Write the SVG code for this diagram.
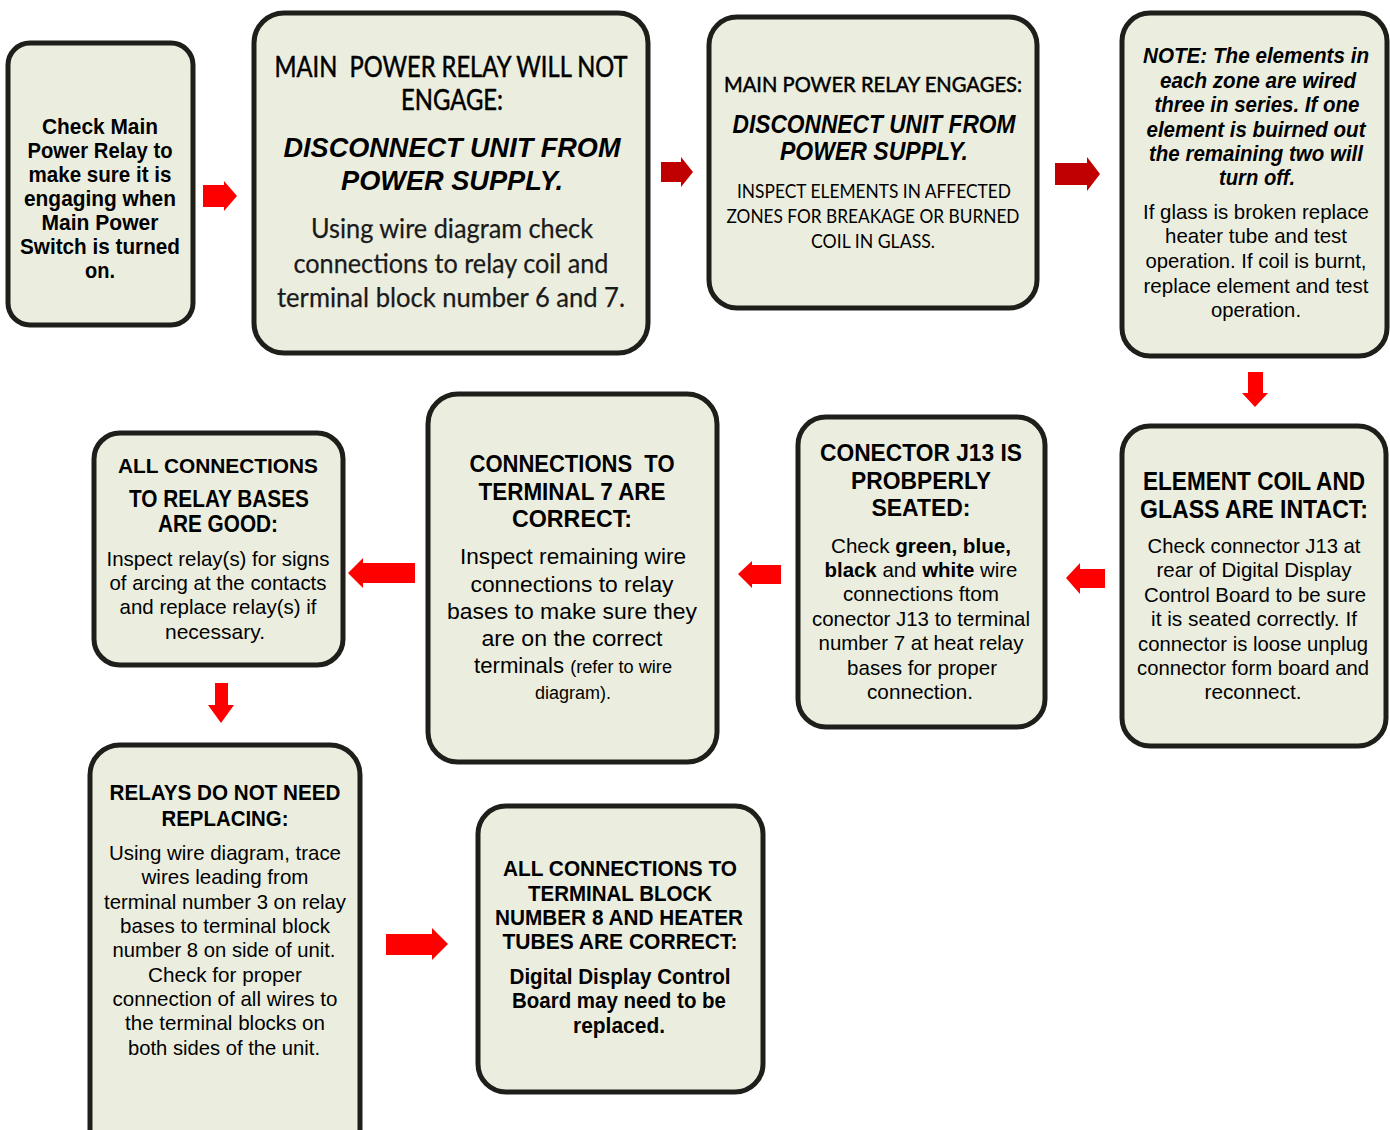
<svg xmlns="http://www.w3.org/2000/svg" width="1390" height="1130" viewBox="0 0 1390 1130">
<style>
.box{fill:#EBEEDF;stroke:#1E1E1A;stroke-width:5}
.ar{fill:#FF0000}
.ard{fill:#C00000}
text{font-family:"Liberation Sans",Arial,sans-serif;text-anchor:middle;fill:#000}
.b{font-weight:bold}
.bi{font-weight:bold;font-style:italic}
.r{fill:#111}
.cal{font-family:Lato,"Open Sans",sans-serif}
.hd{stroke:#000;stroke-width:0.5}
.g{fill:#1a1a1a;stroke:#1a1a1a;stroke-width:0.25}
.pre{white-space:pre}
</style>
<rect width="1390" height="1130" fill="#FFFFFF"/>
<g id="connectors">
<polygon class="ar" points="203,185 224,185 224,181 237,196 224,211 224,207 203,207"/>
<polygon class="ard" points="661,162 681,162 681,157 693,172 681,187 681,182 661,182"/>
<polygon class="ard" points="1055,163 1087,163 1087,157 1100,174 1087,191 1087,185 1055,185"/>
<polygon class="ar" points="1248,372 1263,372 1263,393 1268,393 1255,407 1242,393 1248,393"/>
<polygon class="ar" points="1105,569 1080,569 1080,563 1066,578 1080,594 1080,588 1105,588"/>
<polygon class="ar" points="781,565 752,565 752,561 738,574 752,588 752,584 781,584"/>
<polygon class="ar" points="415,563 363,563 363,558 348,573 363,588 363,583 415,583"/>
<polygon class="ar" points="215,683 228,683 228,705 234,705 221,723 208,705 215,705"/>
<polygon class="ar" points="386,934 432,934 432,928 448,944 432,960 432,955 386,955"/>
</g>
<g id="n1">
<rect class="box" x="8" y="43" width="185" height="282" rx="22"/>
<g class="b" font-size="22">
<text x="100" y="134" textLength="116" lengthAdjust="spacingAndGlyphs">Check Main</text>
<text x="100" y="158" textLength="145" lengthAdjust="spacingAndGlyphs">Power Relay to</text>
<text x="100" y="182" textLength="143" lengthAdjust="spacingAndGlyphs">make sure it is</text>
<text x="100" y="206" textLength="152" lengthAdjust="spacingAndGlyphs">engaging when</text>
<text x="100" y="230" textLength="117" lengthAdjust="spacingAndGlyphs">Main Power</text>
<text x="100" y="254" textLength="160" lengthAdjust="spacingAndGlyphs">Switch is turned</text>
<text x="100" y="278" textLength="30" lengthAdjust="spacingAndGlyphs">on.</text>
</g>
</g>
<g id="n2">
<rect class="box" x="254" y="13" width="394" height="340" rx="30"/>
<text class="cal hd pre" x="451" y="77" font-size="28" textLength="353" lengthAdjust="spacingAndGlyphs">MAIN  POWER RELAY WILL NOT</text>
<text class="cal hd" x="452" y="110" font-size="28" textLength="102" lengthAdjust="spacingAndGlyphs">ENGAGE:</text>
<text class="bi" x="452" y="157" font-size="28" textLength="337" lengthAdjust="spacingAndGlyphs">DISCONNECT UNIT FROM</text>
<text class="bi" x="452" y="190" font-size="28" textLength="222" lengthAdjust="spacingAndGlyphs">POWER SUPPLY.</text>
<text class="cal g" x="452" y="238" font-size="26" textLength="282" lengthAdjust="spacingAndGlyphs">Using wire diagram check</text>
<text class="cal g" x="451" y="273" font-size="26" textLength="315" lengthAdjust="spacingAndGlyphs">connections to relay coil and</text>
<text class="cal g" x="451" y="307" font-size="26" textLength="348" lengthAdjust="spacingAndGlyphs">terminal block number 6 and 7.</text>
</g>
<g id="n3">
<rect class="box" x="709" y="17" width="328" height="291" rx="28"/>
<text class="cal hd" x="873" y="92" font-size="21" textLength="298" lengthAdjust="spacingAndGlyphs">MAIN POWER RELAY ENGAGES:</text>
<text class="bi" x="874" y="133" font-size="25" textLength="283" lengthAdjust="spacingAndGlyphs">DISCONNECT UNIT FROM</text>
<text class="bi" x="874" y="160" font-size="25" textLength="188" lengthAdjust="spacingAndGlyphs">POWER SUPPLY.</text>
<text class="cal" x="874" y="198" font-size="19" fill="#222" textLength="274" lengthAdjust="spacingAndGlyphs">INSPECT ELEMENTS IN AFFECTED</text>
<text class="cal" x="873" y="223" font-size="19" fill="#222" textLength="293" lengthAdjust="spacingAndGlyphs">ZONES FOR BREAKAGE OR BURNED</text>
<text class="cal" x="873" y="248" font-size="19" fill="#222" textLength="124" lengthAdjust="spacingAndGlyphs">COIL IN GLASS.</text>
</g>
<g id="n4">
<rect class="box" x="1122" y="13" width="265" height="343" rx="28"/>
<g class="bi" font-size="22">
<text x="1256" y="63" textLength="226" lengthAdjust="spacingAndGlyphs">NOTE: The elements in</text>
<text x="1258" y="88" textLength="196" lengthAdjust="spacingAndGlyphs">each zone are wired</text>
<text x="1257" y="112" textLength="205" lengthAdjust="spacingAndGlyphs">three in series. If one</text>
<text x="1256" y="137" textLength="219" lengthAdjust="spacingAndGlyphs">element is buirned out</text>
<text x="1256" y="161" textLength="214" lengthAdjust="spacingAndGlyphs">the remaining two will</text>
<text x="1257" y="185" textLength="76" lengthAdjust="spacingAndGlyphs">turn off.</text>
</g>
<g class="r" font-size="21">
<text x="1256" y="219" textLength="226" lengthAdjust="spacingAndGlyphs">If glass is broken replace</text>
<text x="1256" y="243" textLength="182" lengthAdjust="spacingAndGlyphs">heater tube and test</text>
<text x="1256" y="268" textLength="221" lengthAdjust="spacingAndGlyphs">operation. If coil is burnt,</text>
<text x="1256" y="293" textLength="225" lengthAdjust="spacingAndGlyphs">replace element and test</text>
<text x="1256" y="317" textLength="90" lengthAdjust="spacingAndGlyphs">operation.</text>
</g>
</g>
<g id="n5">
<rect class="box" x="1122" y="426" width="264" height="320" rx="28"/>
<g class="b" font-size="25">
<text x="1254" y="490" textLength="222" lengthAdjust="spacingAndGlyphs">ELEMENT COIL AND</text>
<text x="1254" y="518" textLength="228" lengthAdjust="spacingAndGlyphs">GLASS ARE INTACT:</text>
</g>
<g class="r" font-size="21">
<text x="1254" y="553" textLength="213" lengthAdjust="spacingAndGlyphs">Check connector J13 at</text>
<text x="1254" y="577" textLength="195" lengthAdjust="spacingAndGlyphs">rear of Digital Display</text>
<text x="1255" y="602" textLength="222" lengthAdjust="spacingAndGlyphs">Control Board to be sure</text>
<text x="1254" y="626" textLength="206" lengthAdjust="spacingAndGlyphs">it is seated correctly. If</text>
<text x="1253" y="651" textLength="230" lengthAdjust="spacingAndGlyphs">connector is loose unplug</text>
<text x="1253" y="675" textLength="232" lengthAdjust="spacingAndGlyphs">connector form board and</text>
<text x="1253" y="699" textLength="97" lengthAdjust="spacingAndGlyphs">reconnect.</text>
</g>
</g>
<g id="n6">
<rect class="box" x="798" y="417" width="247" height="310" rx="28"/>
<g class="b" font-size="24">
<text x="921" y="461" textLength="202" lengthAdjust="spacingAndGlyphs">CONECTOR J13 IS</text>
<text x="921" y="489" textLength="140" lengthAdjust="spacingAndGlyphs">PROBPERLY</text>
<text x="921" y="516" textLength="99" lengthAdjust="spacingAndGlyphs">SEATED:</text>
</g>
<g class="r" font-size="21">
<text x="921" y="553" textLength="180" lengthAdjust="spacingAndGlyphs">Check <tspan class="b">green, blue,</tspan></text>
<text x="921" y="577" textLength="193" lengthAdjust="spacingAndGlyphs"><tspan class="b">black</tspan> and <tspan class="b">white</tspan> wire</text>
<text x="921" y="601" textLength="156" lengthAdjust="spacingAndGlyphs">connections ftom</text>
<text x="921" y="626" textLength="218" lengthAdjust="spacingAndGlyphs">conector J13 to terminal</text>
<text x="921" y="650" textLength="205" lengthAdjust="spacingAndGlyphs">number 7 at heat relay</text>
<text x="922" y="675" textLength="150" lengthAdjust="spacingAndGlyphs">bases for proper</text>
<text x="920" y="699" textLength="106" lengthAdjust="spacingAndGlyphs">connection.</text>
</g>
</g>
<g id="n7">
<rect class="box" x="428" y="394" width="289" height="368" rx="30"/>
<g class="b" font-size="24">
<text class="pre" x="572" y="472" textLength="205" lengthAdjust="spacingAndGlyphs">CONNECTIONS  TO</text>
<text x="572" y="500" textLength="187" lengthAdjust="spacingAndGlyphs">TERMINAL 7 ARE</text>
<text x="572" y="527" textLength="120" lengthAdjust="spacingAndGlyphs">CORRECT:</text>
</g>
<g class="r" font-size="22">
<text x="573" y="564" textLength="226" lengthAdjust="spacingAndGlyphs">Inspect remaining wire</text>
<text x="572" y="592" textLength="203" lengthAdjust="spacingAndGlyphs">connections to relay</text>
<text x="572" y="619" textLength="250" lengthAdjust="spacingAndGlyphs">bases to make sure they</text>
<text x="572" y="646" textLength="181" lengthAdjust="spacingAndGlyphs">are on the correct</text>
<text x="573" y="673" textLength="198" lengthAdjust="spacingAndGlyphs">terminals <tspan font-size="18">(refer to wire</tspan></text>
<text x="573" y="699" font-size="18" textLength="76" lengthAdjust="spacingAndGlyphs">diagram).</text>
</g>
</g>
<g id="n8">
<rect class="box" x="94" y="433" width="249" height="232" rx="26"/>
<g class="b">
<text x="218" y="473" font-size="21" textLength="200" lengthAdjust="spacingAndGlyphs">ALL CONNECTIONS</text>
<text x="219" y="507" font-size="23" textLength="180" lengthAdjust="spacingAndGlyphs">TO RELAY BASES</text>
<text x="218" y="532" font-size="23" textLength="120" lengthAdjust="spacingAndGlyphs">ARE GOOD:</text>
</g>
<g class="r" font-size="21">
<text x="218" y="566" textLength="223" lengthAdjust="spacingAndGlyphs">Inspect relay(s) for signs</text>
<text x="218" y="590" textLength="217" lengthAdjust="spacingAndGlyphs">of arcing at the contacts</text>
<text x="218" y="614" textLength="197" lengthAdjust="spacingAndGlyphs">and replace relay(s) if</text>
<text x="215" y="639" textLength="100" lengthAdjust="spacingAndGlyphs">necessary.</text>
</g>
</g>
<g id="n9">
<rect class="box" x="90" y="745" width="270" height="420" rx="30"/>
<g class="b" font-size="22">
<text x="225" y="800" textLength="231" lengthAdjust="spacingAndGlyphs">RELAYS DO NOT NEED</text>
<text x="225" y="826" textLength="127" lengthAdjust="spacingAndGlyphs">REPLACING:</text>
</g>
<g class="r" font-size="21">
<text x="225" y="860" textLength="232" lengthAdjust="spacingAndGlyphs">Using wire diagram, trace</text>
<text x="225" y="884" textLength="167" lengthAdjust="spacingAndGlyphs">wires leading from</text>
<text x="225" y="909" textLength="242" lengthAdjust="spacingAndGlyphs">terminal number 3 on relay</text>
<text x="225" y="933" textLength="210" lengthAdjust="spacingAndGlyphs">bases to terminal block</text>
<text x="224" y="957" textLength="223" lengthAdjust="spacingAndGlyphs">number 8 on side of unit.</text>
<text x="225" y="982" textLength="154" lengthAdjust="spacingAndGlyphs">Check for proper</text>
<text x="225" y="1006" textLength="225" lengthAdjust="spacingAndGlyphs">connection of all wires to</text>
<text x="225" y="1030" textLength="200" lengthAdjust="spacingAndGlyphs">the terminal blocks on</text>
<text x="224" y="1055" textLength="192" lengthAdjust="spacingAndGlyphs">both sides of the unit.</text>
</g>
</g>
<g id="n10">
<rect class="box" x="478" y="806" width="285" height="286" rx="28"/>
<g class="b" font-size="22">
<text x="620" y="876" textLength="234" lengthAdjust="spacingAndGlyphs">ALL CONNECTIONS TO</text>
<text x="620" y="901" textLength="184" lengthAdjust="spacingAndGlyphs">TERMINAL BLOCK</text>
<text x="619" y="925" textLength="248" lengthAdjust="spacingAndGlyphs">NUMBER 8 AND HEATER</text>
<text x="620" y="949" textLength="235" lengthAdjust="spacingAndGlyphs">TUBES ARE CORRECT:</text>
<text x="620" y="984" textLength="221" lengthAdjust="spacingAndGlyphs">Digital Display Control</text>
<text x="619" y="1008" textLength="214" lengthAdjust="spacingAndGlyphs">Board may need to be</text>
<text x="619" y="1033" textLength="92" lengthAdjust="spacingAndGlyphs">replaced.</text>
</g>
</g>
</svg>
